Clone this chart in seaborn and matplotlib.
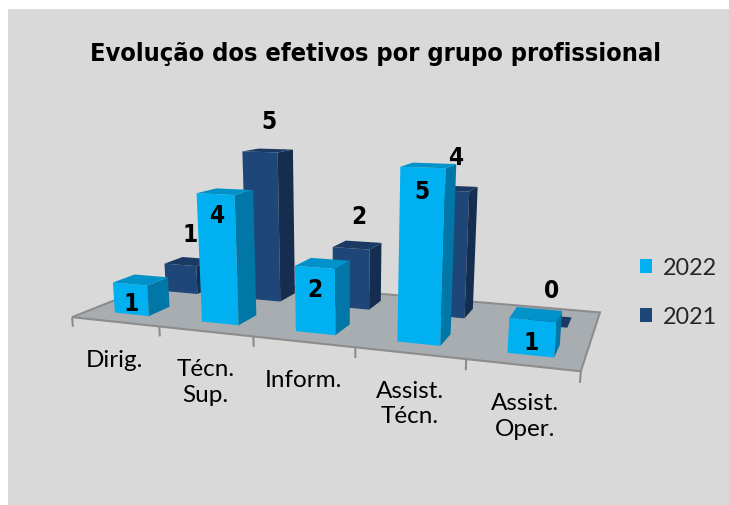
import numpy as np
import pandas as pd
import matplotlib
matplotlib.use("Agg")
import matplotlib.pyplot as plt
import seaborn as sns
from matplotlib.transforms import Transform, Affine2D
from matplotlib.patches import Polygon, Rectangle, Patch
from matplotlib.collections import LineCollection

# ---- data ----
categories = ["Dirig.", "Técn.\nSup.", "Inform.", "Assist.\nTécn.", "Assist.\nOper."]
years = ["2022", "2021"]
values_2022 = [1, 4, 2, 5, 1]
values_2021 = [1, 5, 2, 4, 0]
title = "Evolução dos efetivos por grupo profissional"

# ---- style ----
W, H = 729, 506
FRONT = {"2022": "#00B0F0", "2021": "#1F4678"}
TOP = {"2022": "#0092C9", "2021": "#1A3A64"}
SIDE = {"2022": "#0077A6", "2021": "#152D4F"}
ROW = {"2022": 0.0, "2021": 1.0}
SHIFT = {"2022": 0.2, "2021": -0.2}
ZORD = {"2022": 3, "2021": 2}
VS = 0.315  # world height per value unit

# ---- simple perspective camera (Excel-like 3D view) ----
ALPHA, BETA = np.radians(20), np.radians(15)
DIST, SCALE = 9.0, 99.0
TARGET = np.array([2.0, 1.0, 0.0])
CX, CY = 341.0, 316.0
fwd = np.array([-np.sin(ALPHA) * np.cos(BETA), np.cos(ALPHA) * np.cos(BETA), -np.sin(BETA)])
rgt = np.array([np.cos(ALPHA), np.sin(ALPHA), 0.0])
upv = np.array([-np.sin(ALPHA) * np.sin(BETA), np.cos(ALPHA) * np.sin(BETA), np.cos(BETA)])
cam = TARGET - DIST * fwd


def project(X, Y, Z):
    X, Y, Z = np.broadcast_arrays(np.asarray(X, float), np.asarray(Y, float), np.asarray(Z, float))
    q = np.stack([X, Y, Z], axis=-1) - cam
    xc, yc, zc = q @ rgt, q @ upv, q @ fwd
    return CX + SCALE * DIST * xc / zc, CY - SCALE * DIST * yc / zc


class Plane(Transform):
    input_dims = 2
    output_dims = 2
    has_inverse = False

    def __init__(self, fn):
        super().__init__()
        self._fn = fn

    def transform_non_affine(self, values):
        v = np.asarray(values, float)
        X, Y, Z = self._fn(v[..., 0], v[..., 1])
        px, py = project(X, Y, Z)
        return np.stack([px, py], axis=-1)


sns.set_theme(style="white")
plt.rcParams["font.family"] = ["Lato", "DejaVu Sans"]

fig = plt.figure(figsize=(W / 100, H / 100), dpi=100)
fig.patch.set_facecolor("white")
fig.add_artist(Rectangle((8 / W, 0), 1, 1 - 10 / H, transform=fig.transFigure,
                         facecolor="#D9D9D9", edgecolor="none", zorder=0))
ax = fig.add_axes([0, 0, 1, 1])
to_img = Affine2D().scale(1 / W, -1 / H).translate(0, 1) + fig.transFigure


def plane(fn):
    return Plane(fn) + to_img


df = pd.DataFrame({
    "grupo": categories * 2,
    "ano": ["2022"] * len(categories) + ["2021"] * len(categories),
    "valor": values_2022 + values_2021,
})
sns.barplot(data=df, x="grupo", y="valor", hue="ano", order=categories, hue_order=years,
            palette=FRONT, width=0.8, dodge=True, saturation=1, errorbar=None,
            legend=False, ax=ax)
ax.set_axis_off()

# floor
ax.add_patch(Polygon([(-0.5, 0), (4.45, 0), (4.45, 2), (-0.5, 2)], closed=True,
                     transform=plane(lambda a, b: (a, b, 0.0)),
                     facecolor="#A8ADB2", edgecolor="#8C8C8C", lw=1.5, zorder=1, clip_on=False))
bounds = [-0.5, 0.5, 1.5, 2.5, 3.5, 4.45]
ticks = LineCollection([[(u, 0), (u, -0.1)] for u in bounds], colors="#8C8C8C", linewidths=1.5,
                       transform=plane(lambda a, b: (a, 0.0, b)), zorder=1)
ticks.set_clip_on(False)
ax.add_collection(ticks, autolim=False)

LABEL_FONT = dict(fontsize=17.5, fontweight="bold", fontstretch="condensed",
                  family=["DejaVu Sans"], color="black")

# 3D bars built on seaborn's bars
for year, cont in zip(years, ax.containers):
    d0, d1 = ROW[year] + 0.3, ROW[year] + 0.7
    s = SHIFT[year]
    zo = ZORD[year]
    for i, p in enumerate(cont.patches):
        x0, w, val = p.get_x(), p.get_width(), p.get_height()
        p.set_transform(plane(lambda a, b, s=s, d=d0: (a + s, d, b * VS)))
        p.set_edgecolor("none")
        p.set_clip_on(False)
        p.set_zorder(zo)
        ax.add_patch(Polygon([(d0, 0), (d1, 0), (d1, val), (d0, val)], closed=True,
                             transform=plane(lambda a, b, u=x0 + w + s: (u, a, b * VS)),
                             facecolor=SIDE[year], edgecolor="none", zorder=zo, clip_on=False))
        ax.add_patch(Polygon([(x0, d0), (x0 + w, d0), (x0 + w, d1), (x0, d1)], closed=True,
                             transform=plane(lambda a, b, s=s, z=val * VS: (a + s, b, z)),
                             facecolor=TOP[year], edgecolor="none", zorder=zo, clip_on=False))
        # value labels
        if year == "2022":
            lx, ly = project(i, d0, val * VS - 0.2)
        else:
            lx, ly = project(i, ROW[year] + 0.55, val * VS + 0.3)
        ax.text(float(lx), float(ly), f"{int(val)}", transform=to_img, ha="center", va="center",
                zorder=6, **LABEL_FONT)

# category labels
for i, cat in enumerate(categories):
    lx, ly = project(i, 0.0, 0.0)
    ax.text(float(lx), float(ly) + 27, cat, transform=to_img, ha="center", va="top",
            multialignment="center", fontsize=17.5, color="black", linespacing=1.25, zorder=6)

# title
fig.text(375 / W, 1 - 61 / H, title, ha="center", va="baseline", fontsize=18.2,
         fontweight="bold", fontstretch="condensed", family=["DejaVu Sans"], color="black")

# legend
handles = [Patch(facecolor=FRONT[y], edgecolor="none", label=y) for y in years]
fig.legend(handles=handles, loc="center left", bbox_to_anchor=(640 / W, 1 - 293 / H),
           frameon=False, fontsize=16.8, handlelength=0.52, handleheight=0.52,
           handletextpad=0.45, labelspacing=1.2, borderaxespad=0, borderpad=0)

fig.savefig("out.png", dpi=100, facecolor=fig.get_facecolor())
